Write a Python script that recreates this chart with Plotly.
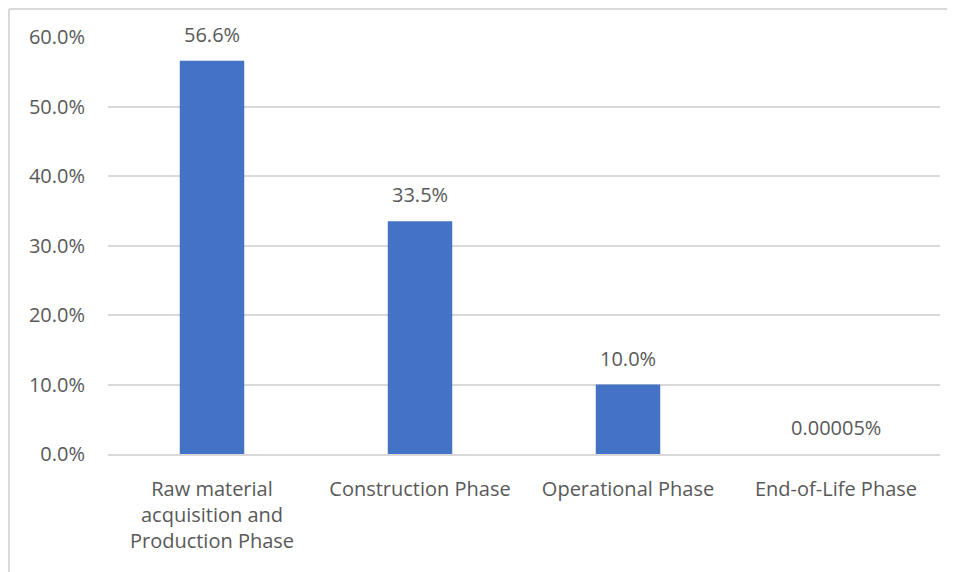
import plotly.graph_objects as go

# --- data ---
phases = ["Raw material<br>acquisition and<br>Production Phase",
          "Construction Phase", "Operational Phase", "End-of-Life Phase"]
shares = [0.566, 0.335, 0.100, 0.0000005]
labels = ["56.6%", "33.5%", "10.0%", "0.00005%"]
y_ticks = [0, 0.1, 0.2, 0.3, 0.4, 0.5, 0.6]

FONT = "Open Sans, sans-serif"
TXT = "#595959"
GRID = "#D9D9D9"
FS = 20

fig = go.Figure(go.Bar(
    x=phases, y=shares,
    marker=dict(color="#4472C4", line=dict(width=0)),
    hoverinfo="skip",
))

# data labels above each bar
for p, v, t in zip(phases, shares, labels):
    fig.add_annotation(x=p, y=v, text=t, showarrow=False, yanchor="bottom",
                       yshift=11, font=dict(family=FONT, size=FS, color=TXT))

# page body adds 8px margin, so margins are 8px less than the measured positions
fig.update_layout(
    width=955, height=572,
    margin=dict(l=100, r=23, t=29, b=126),
    paper_bgcolor="white", plot_bgcolor="white",
    bargap=0.69, showlegend=False,
    font=dict(family=FONT, size=FS, color=TXT),
    # chart border like Excel
    shapes=[
        dict(type="line", xref="paper", yref="paper", x0=-0.119, x1=1.05, y0=1.067, y1=1.067,
             line=dict(color=GRID, width=2)),
        dict(type="line", xref="paper", yref="paper", x0=-0.119, x1=-0.119, y0=1.067, y1=-0.32,
             line=dict(color=GRID, width=2)),
    ],
)
fig.update_xaxes(showgrid=False, showline=True, linecolor=GRID, linewidth=1.5,
                 ticks="", ticklabelstandoff=16, automargin=False,
                 tickfont=dict(size=FS, color=TXT))
fig.update_yaxes(range=[0, 0.6], tickvals=y_ticks, tickformat=".1%",
                 showgrid=True, gridcolor=GRID, gridwidth=1.5, zeroline=False,
                 showline=False, ticks="", ticklabelstandoff=22, automargin=False,
                 tickfont=dict(size=FS, color=TXT))

fig.write_html("out.html")
